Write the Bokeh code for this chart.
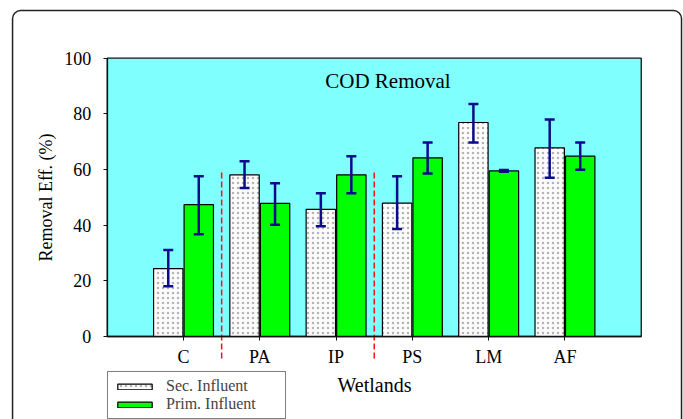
from bokeh.plotting import figure
from bokeh.models import (ColumnDataSource, LinearAxis, FixedTicker, Whisker, TeeHead,
                          Label, Range1d)
from bokeh.transform import dodge
from bokeh.embed import file_html
from bokeh.resources import INLINE

# ---------------- data ----------------
wetlands = ["C", "PA", "IP", "PS", "LM", "AF"]
sec_mean = [24.4, 58.1, 45.7, 47.9, 76.9, 67.8]
sec_upper = [31.1, 63.0, 51.5, 57.6, 83.5, 78.0]
sec_lower = [18.1, 53.4, 39.6, 38.6, 69.7, 57.0]
prim_mean = [47.4, 47.8, 58.1, 64.2, 59.5, 64.8]
prim_upper = [57.6, 55.1, 64.8, 69.7, 59.8, 69.7]
prim_lower = [36.7, 40.2, 51.5, 58.6, 59.2, 59.9]
y_ticks = [0, 20, 40, 60, 80, 100]
group_breaks_after = ["C", "IP"]
series_names = ["Sec. Influent", "Prim. Influent"]
title_text = "COD Removal"
x_title = "Wetlands"
y_title = "Removal Eff. (%)"

pos = [i + 1 for i in range(len(wetlands))]
x_max = len(wetlands) + 1
y_max = y_ticks[-1]

src = ColumnDataSource(dict(pos=pos, sec=sec_mean, sec_up=sec_upper, sec_lo=sec_lower,
                            prim=prim_mean, prim_up=prim_upper, prim_lo=prim_lower))

FONT = "'Liberation Serif', 'Times New Roman', serif"
NAVY = "#0b0b8a"

p = figure(width=683, height=419, output_backend="svg", toolbar_location=None,
           x_range=Range1d(-1.399, 7.554), y_range=Range1d(-29.82, 120.73),
           x_axis_location=None, y_axis_location=None, min_border=0,
           outline_line_color=None, background_fill_color="white",
           border_fill_color="white")
p.grid.visible = False

# outer rounded frame
p.quad(left=[-1.241], right=[7.528], top=[117.1], bottom=[-45],
       fill_color=None, line_color="#222222", line_width=1.5, border_radius=8)

# plot area background
p.quad(left=[0], right=[x_max], bottom=[0], top=[y_max], fill_color="#80FFFF",
       line_color="#111111", line_width=1.3)

# group separators
sep_x = [wetlands.index(w) + 1.5 for w in group_breaks_after]
p.segment(x0=sep_x, x1=sep_x, y0=[58.9] * len(sep_x), y1=[-8.6] * len(sep_x),
          line_color="#ff1010", line_width=1.5, line_dash="6 3")

# bars
p.vbar(x=dodge("pos", -0.2), top="sec", width=0.385, bottom=0, source=src,
       fill_color="#fcfcfc", hatch_pattern="dot", hatch_color="#b4b4b4",
       hatch_scale=5, hatch_weight=1, line_color="black", line_width=1.2,
       legend_label=series_names[0])
p.vbar(x=dodge("pos", 0.2), top="prim", width=0.385, bottom=0, source=src,
       fill_color="#00FF00", line_color="black", line_width=1.2,
       legend_label=series_names[1])

for off, up, lo in [(-0.2, "sec_up", "sec_lo"), (0.2, "prim_up", "prim_lo")]:
    w = Whisker(base=dodge("pos", off), upper=up, lower=lo, source=src,
                line_color=NAVY, line_width=2.5, level="overlay",
                upper_head=TeeHead(size=10, line_color=NAVY, line_width=2.5),
                lower_head=TeeHead(size=10, line_color=NAVY, line_width=2.5))
    p.add_layout(w)

# axes
yax = LinearAxis(fixed_location=0, bounds=(0, y_max), ticker=FixedTicker(ticks=y_ticks),
                 axis_label=y_title)
xax = LinearAxis(fixed_location=0, bounds=(0, x_max), ticker=FixedTicker(ticks=pos),
                 major_label_overrides={pp: w for pp, w in zip(pos, wetlands)},
                 axis_label=x_title)
for ax in (yax, xax):
    ax.major_tick_in = 0
    ax.major_tick_out = 4
    ax.minor_tick_line_color = None
    ax.axis_line_color = "#111111"
    ax.axis_line_width = 1.3
    ax.major_tick_line_color = "#111111"
    ax.major_label_text_font = FONT
    ax.major_label_text_font_size = "18px"
    ax.major_label_text_color = "black"
    ax.axis_label_text_font = FONT
    ax.axis_label_text_font_style = "normal"
    ax.axis_label_text_color = "black"
yax.major_label_standoff = 12
yax.axis_label_standoff = 6
yax.axis_label_text_font_size = "18px"
xax.major_label_standoff = 6
xax.axis_label_standoff = 4
xax.axis_label_text_font_size = "20px"
p.add_layout(yax, "left")
p.add_layout(xax, "below")

# title
p.add_layout(Label(x=3.68, y=91.8, text=title_text, text_align="center",
                   text_baseline="middle", text_font=FONT, text_font_size="21px",
                   text_color="black"))

# legend
lg = p.legend[0]
lg.location = (107, 0)
lg.label_text_font = FONT
lg.label_text_font_size = "16px"
lg.label_height = 16
lg.glyph_height = 7
lg.glyph_width = 43
lg.label_standoff = 10
lg.label_width = 114
lg.padding = 5
lg.spacing = 0
lg.margin = 0
lg.border_line_color = "black"
lg.border_line_width = 1.2
lg.background_fill_color = "white"
lg.background_fill_alpha = 1

open("out.html", "w").write(file_html(p, INLINE))
